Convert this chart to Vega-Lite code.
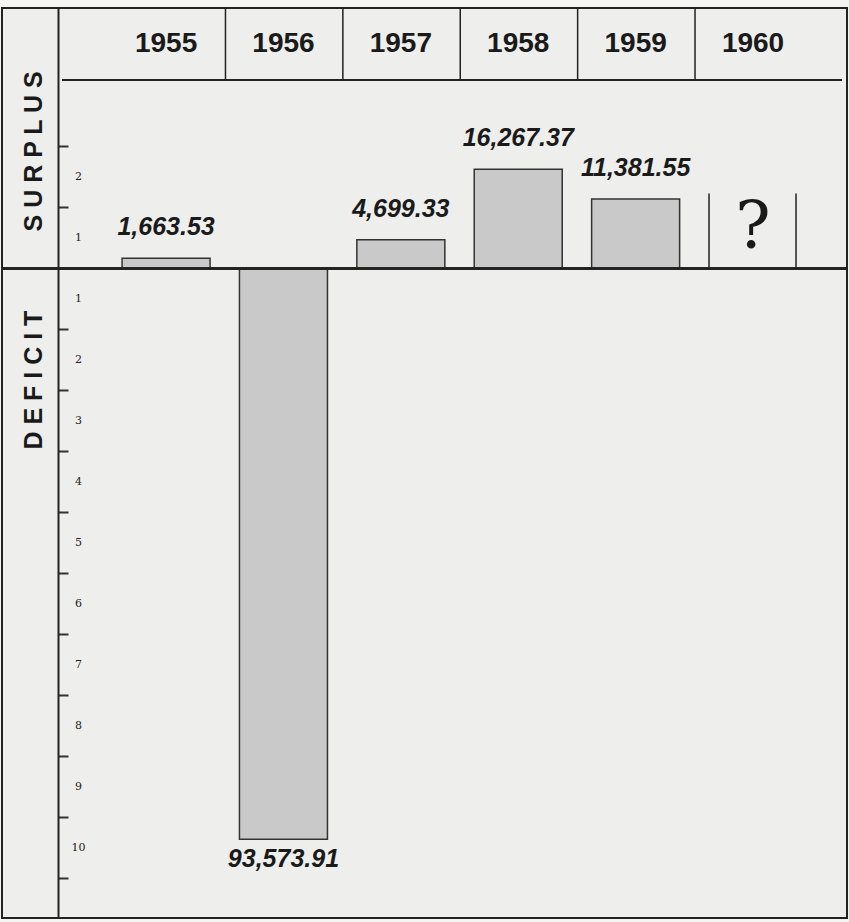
{
  "$schema": "https://vega.github.io/schema/vega-lite/v6.json",
  "width": 845,
  "height": 910,
  "autosize": "none",
  "padding": {"left": 2, "top": 8, "right": 2, "bottom": 4},
  "background": "#f4f4f2",
  "config": {"view": {"stroke": "#222", "strokeWidth": 2, "fill": "#eeeeec"}},
  "datasets": {
    "budget": [
      {"year": 1955, "value": 1663.53, "label": "1,663.53"},
      {"year": 1956, "value": -93573.91, "label": "93,573.91"},
      {"year": 1957, "value": 4699.33, "label": "4,699.33"},
      {"year": 1958, "value": 16267.37, "label": "16,267.37"},
      {"year": 1959, "value": 11381.55, "label": "11,381.55"},
      {"year": 1960, "value": null, "label": "?"}
    ],
    "sections": [{"section": "SURPLUS"}, {"section": "DEFICIT"}]
  },
  "data": {"name": "budget"},
  "resolve": {"axis": {"y": "independent"}},
  "layer": [
    {
      "mark": {"type": "bar", "size": 88, "fill": "#c9c9c9", "stroke": "#333", "strokeWidth": 1.5},
      "encoding": {
        "x": {"field": "year", "type": "quantitative", "scale": {"domain": [1953.645, 1960.758], "nice": false, "zero": false}, "axis": null},
        "y": {
          "field": "value", "type": "quantitative",
          "scale": {"domain": [-106500, 42700], "nice": false, "zero": false},
          "axis": {
            "orient": "left", "offset": -56,
            "values": [-100000, -90000, -80000, -70000, -60000, -50000, -40000, -30000, -20000, -10000, 10000, 20000],
            "labels": false,
            "tickSize": -10, "tickWidth": 2, "tickColor": "#333",
            "domainColor": "#222", "domainWidth": 2, "grid": false, "title": null
          }
        }
      }
    },
    {
      "mark": {"type": "rule", "stroke": "#222", "strokeWidth": 2},
      "encoding": {
        "y": {
          "datum": 0, "type": "quantitative",
          "axis": {
            "orient": "left", "offset": -56,
            "values": [-95000, -85000, -75000, -65000, -55000, -45000, -35000, -25000, -15000, -5000, 5000, 15000],
            "labelExpr": "'' + ceil(abs(datum.value) / 10000)",
            "ticks": false, "domain": false,
            "labelPadding": -20, "labelAlign": "center", "labelBaseline": "middle",
            "labelFontSize": 11, "labelColor": "#222", "labelFont": "DejaVu Serif",
            "labelOverlap": false, "labelBound": false, "grid": false, "title": null
          }
        }
      }
    },
    {
      "mark": {"type": "rule", "stroke": "#222", "strokeWidth": 2},
      "encoding": {
        "x": {"datum": 1954.116, "type": "quantitative"},
        "x2": {"datum": 1960.758},
        "y": {"datum": 30900, "type": "quantitative", "axis": null}
      }
    },
    {
      "transform": [{"filter": "datum.year < 1960"}],
      "mark": {"type": "rule", "stroke": "#222", "strokeWidth": 1.5, "xOffset": 59.4},
      "encoding": {
        "x": {"field": "year", "type": "quantitative"},
        "y": {"datum": 30900, "type": "quantitative", "axis": null},
        "y2": {"datum": 42700}
      }
    },
    {
      "transform": [{"filter": "datum.year == 1960"}],
      "mark": {"type": "rule", "stroke": "#222", "strokeWidth": 1.5, "xOffset": -44},
      "encoding": {
        "x": {"field": "year", "type": "quantitative"},
        "y": {"datum": 0, "type": "quantitative", "axis": null},
        "y2": {"datum": 12300}
      }
    },
    {
      "transform": [{"filter": "datum.year == 1960"}],
      "mark": {"type": "rule", "stroke": "#222", "strokeWidth": 1.5, "xOffset": 43},
      "encoding": {
        "x": {"field": "year", "type": "quantitative"},
        "y": {"datum": 0, "type": "quantitative", "axis": null},
        "y2": {"datum": 12300}
      }
    },
    {
      "mark": {"type": "text", "font": "Liberation Sans", "fontWeight": "bold", "fontSize": 28, "fill": "#1a1a1a", "baseline": "middle"},
      "encoding": {
        "x": {"field": "year", "type": "quantitative"},
        "y": {"datum": 36800, "type": "quantitative", "axis": null},
        "text": {"field": "year", "type": "nominal"}
      }
    },
    {
      "transform": [{"filter": "datum.value > 0"}],
      "mark": {"type": "text", "font": "Liberation Sans", "fontWeight": "bold", "fontStyle": "italic", "fontSize": 25, "fill": "#1a1a1a", "baseline": "bottom", "dy": -18},
      "encoding": {
        "x": {"field": "year", "type": "quantitative"},
        "y": {"field": "value", "type": "quantitative", "axis": null},
        "text": {"field": "label", "type": "nominal"}
      }
    },
    {
      "transform": [{"filter": "datum.value < 0"}],
      "mark": {"type": "text", "font": "Liberation Sans", "fontWeight": "bold", "fontStyle": "italic", "fontSize": 25, "fill": "#1a1a1a", "baseline": "top", "dy": 8},
      "encoding": {
        "x": {"field": "year", "type": "quantitative"},
        "y": {"field": "value", "type": "quantitative", "axis": null},
        "text": {"field": "label", "type": "nominal"}
      }
    },
    {
      "transform": [{"filter": "datum.year == 1960"}],
      "mark": {"type": "text", "font": "DejaVu Serif", "fontSize": 66, "fill": "#1a1a1a", "baseline": "middle"},
      "encoding": {
        "x": {"field": "year", "type": "quantitative"},
        "y": {"datum": 6700, "type": "quantitative", "axis": null},
        "text": {"field": "label", "type": "nominal"}
      }
    },
    {
      "data": {"name": "sections"},
      "transform": [{"filter": "datum.section == 'SURPLUS'"}],
      "mark": {"type": "text", "text": "S U R P L U S", "angle": 270, "font": "Liberation Sans", "fontWeight": "bold", "fontSize": 25, "fill": "#1a1a1a", "baseline": "middle", "align": "center"},
      "encoding": {
        "x": {"datum": 1953.872, "type": "quantitative"},
        "y": {"datum": 19200, "type": "quantitative", "axis": null}
      }
    },
    {
      "data": {"name": "sections"},
      "transform": [{"filter": "datum.section == 'DEFICIT'"}],
      "mark": {"type": "text", "text": "D E F I C I T", "angle": 270, "font": "Liberation Sans", "fontWeight": "bold", "fontSize": 25, "fill": "#1a1a1a", "baseline": "middle", "align": "center"},
      "encoding": {
        "x": {"datum": 1953.872, "type": "quantitative"},
        "y": {"datum": -18300, "type": "quantitative", "axis": null}
      }
    }
  ]
}
